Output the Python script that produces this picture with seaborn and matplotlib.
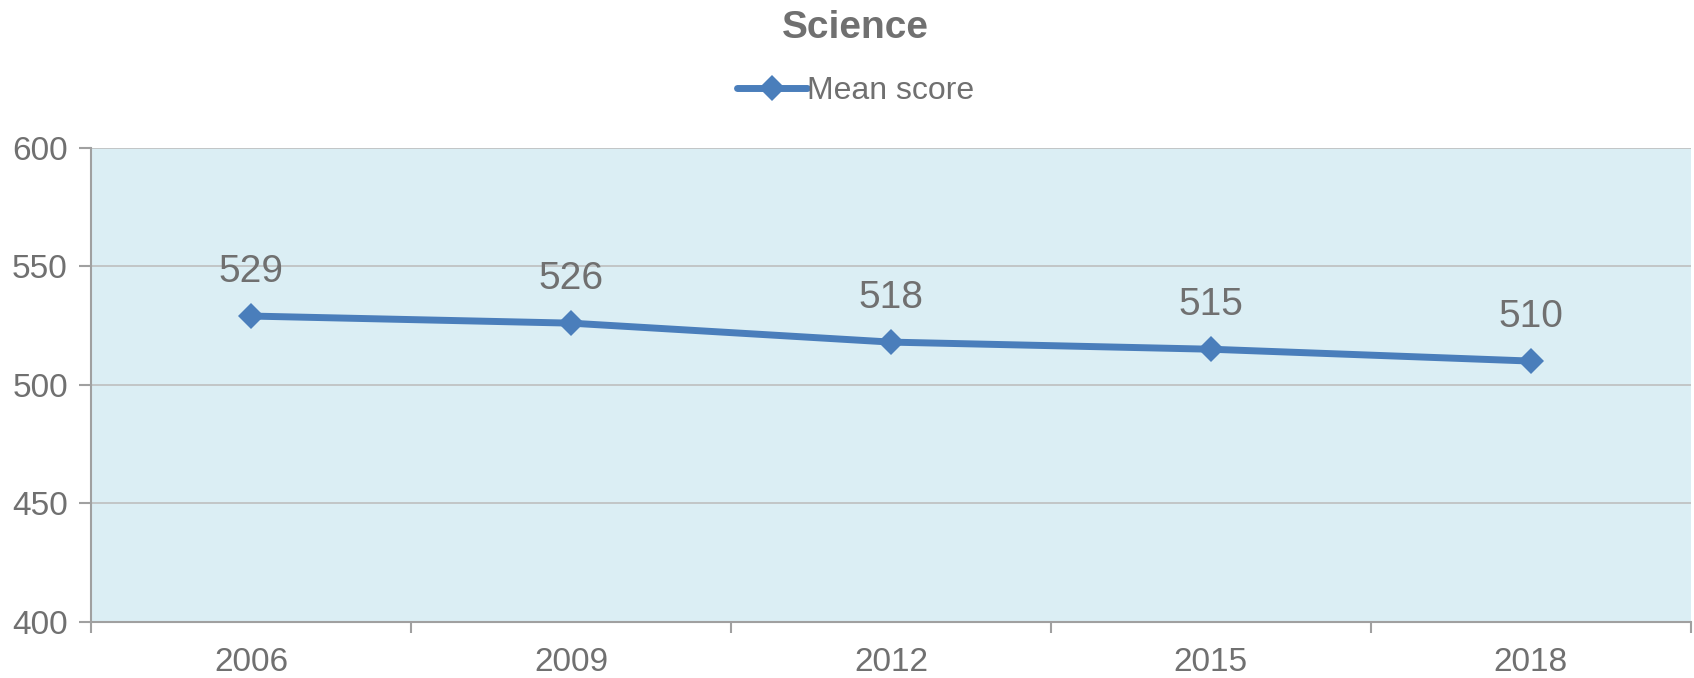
import pandas as pd
import matplotlib.pyplot as plt
import seaborn as sns

# ==============================
# DATA
# ==============================
years = ["2006", "2009", "2012", "2015", "2018"]
mean_score = [529, 526, 518, 515, 510]
y_ticks = [400, 450, 500, 550, 600]

df = pd.DataFrame({"Year": years, "Mean score": mean_score})

# ==============================
# STYLE
# ==============================
sns.set_style("white")
plt.rcParams["font.family"] = ["Liberation Sans", "DejaVu Sans"]

text_grey = "#707070"
line_blue = "#4A7EBB"
axis_grey = "#A0A0A0"

fig = plt.figure(figsize=(16.94, 6.78), dpi=100)
ax = fig.add_axes([0.054, 0.083, 0.944, 0.699])
ax.set_facecolor("#DBEEF4")

sns.lineplot(
    data=df,
    x="Year",
    y="Mean score",
    color=line_blue,
    linewidth=5,
    marker="D",
    markersize=13,
    markeredgewidth=0,
    label="Mean score",
    ax=ax,
)

for i, v in enumerate(mean_score):
    ax.annotate(
        str(v),
        (i, v),
        xytext=(0, 32),
        textcoords="offset points",
        ha="center",
        va="center",
        fontsize=28,
        color=text_grey,
    )

# ==============================
# AXES
# ==============================
ax.set_xlim(-0.5, len(years) - 0.5)
ax.set_ylim(400, 600)
ax.set_yticks(y_ticks)
ax.set_xticks(range(len(years)))
ax.set_xticklabels(years)
ax.set_xticks([i - 0.5 for i in range(len(years) + 1)], minor=True)
ax.grid(axis="y", color="#BEBEBE", linewidth=1.2)
ax.set_axisbelow(True)
ax.set_xlabel("")
ax.set_ylabel("")

ax.tick_params(axis="x", which="major", bottom=False, length=0, pad=18,
               labelsize=24, labelcolor=text_grey)
ax.tick_params(axis="x", which="minor", bottom=True, length=8, width=1.5,
               color=axis_grey, direction="out")
ax.tick_params(axis="y", which="major", left=True, length=9, width=1.5,
               color=axis_grey, direction="out", labelsize=24,
               labelcolor=text_grey, pad=8)

for side in ["top", "right"]:
    ax.spines[side].set_visible(False)
for side in ["left", "bottom"]:
    ax.spines[side].set_color(axis_grey)
    ax.spines[side].set_linewidth(1.5)

# ==============================
# TITLE + LEGEND
# ==============================
fig.text(0.505, 0.958, "Science", ha="center", va="center",
         fontsize=28, fontweight="bold", color=text_grey)

ax.get_legend().remove()
leg = fig.legend(
    loc="center",
    bbox_to_anchor=(0.505, 0.866),
    frameon=False,
    fontsize=23,
    handlelength=2.2,
    handletextpad=0.0,
)
for t in leg.get_texts():
    t.set_color(text_grey)

plt.savefig("out.png", dpi=100)
plt.close()
